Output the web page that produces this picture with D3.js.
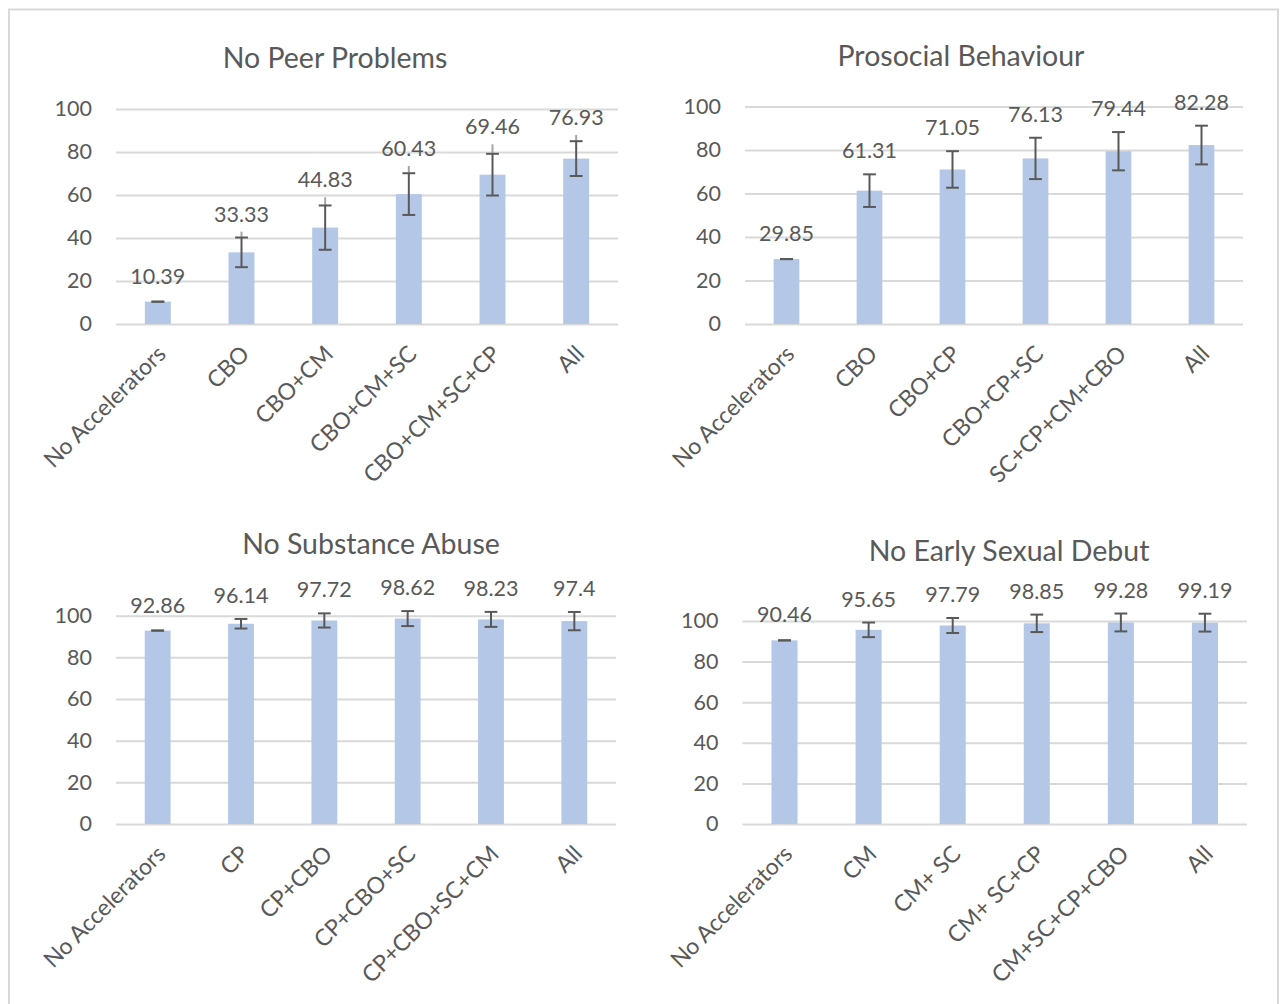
<!DOCTYPE html>
<html>
<head>
<meta charset="utf-8">
<script src="https://cdn.jsdelivr.net/npm/d3@7"></script>
<style>
  html, body { margin: 0; padding: 0; background: #fff; }
  svg { display: block; }
</style>
</head>
<body>
<svg id="chart" width="1281" height="1004"></svg>
<script>
// ---- Data ----------------------------------------------------------------
const yTicks = [0, 20, 40, 60, 80, 100];

const peerCategories = ["No Accelerators", "CBO", "CBO+CM", "CBO+CM+SC", "CBO+CM+SC+CP", "All"];
const peerValues = [10.39, 33.33, 44.83, 60.43, 69.46, 76.93];
const peerErrors = [0, 6.9, 10.3, 9.7, 9.7, 8.1];
const peerUpperSpread = [0, 9.6, 14.1, 13.1, 14.1, 11.0];

const prosocialCategories = ["No Accelerators", "CBO", "CBO+CP", "CBO+CP+SC", "SC+CP+CM+CBO", "All"];
const prosocialValues = [29.85, 61.31, 71.05, 76.13, 79.44, 82.28];
const prosocialErrors = [0, 7.5, 8.4, 9.5, 8.8, 8.9];

const substanceCategories = ["No Accelerators", "CP", "CP+CBO", "CP+CBO+SC", "CP+CBO+SC+CM", "All"];
const substanceValues = [92.86, 96.14, 97.72, 98.62, 98.23, 97.4];
const substanceErrors = [0, 2.3, 3.4, 3.6, 3.6, 4.4];

const sexualCategories = ["No Accelerators", "CM", "CM+ SC", "CM+ SC+CP", "CM+SC+CP+CBO", "All"];
const sexualValues = [90.46, 95.65, 97.79, 98.85, 99.28, 99.19];
const sexualErrors = [0, 3.6, 3.7, 4.3, 4.4, 4.4];

// ---- Panels ----------------------------------------------------------------
const panels = [
  { title: "No Peer Problems", cats: peerCategories, vals: peerValues, errs: peerErrors, spread: peerUpperSpread,
    x0: 116, x1: 618, yTop: 109, yBase: 324, tx: 335, ty: 57 },
  { title: "Prosocial Behaviour", cats: prosocialCategories, vals: prosocialValues, errs: prosocialErrors, spread: null,
    x0: 745, x1: 1243, yTop: 106.5, yBase: 324, tx: 961, ty: 55 },
  { title: "No Substance Abuse", cats: substanceCategories, vals: substanceValues, errs: substanceErrors, spread: null,
    x0: 116, x1: 616, yTop: 615.7, yBase: 824, tx: 371, ty: 543 },
  { title: "No Early Sexual Debut", cats: sexualCategories, vals: sexualValues, errs: sexualErrors, spread: null,
    x0: 742.5, x1: 1247, yTop: 621, yBase: 824, tx: 1009, ty: 550 }
];

const FONT = "Lato, 'Open Sans', sans-serif";
const TEXT = "#595959";
const GRID = "#d9d9d9";
const BAR = "#b4c7e7";
const ERR = "#595959";
const ERR_LIGHT = "#a6a6a6";

const svg = d3.select("#chart");

// frame around the figure
svg.append("rect")
  .attr("x", 9).attr("y", 9.5)
  .attr("width", 1269).attr("height", 1010)
  .attr("fill", "none").attr("stroke", "#d9d9d9").attr("stroke-width", 2);

panels.forEach(p => {
  const g = svg.append("g");

  const rows = p.cats.map((c, i) => ({
    cat: c,
    v: p.vals[i],
    e: p.errs[i],
    s: p.spread ? p.spread[i] : 0
  }));

  const x = d3.scaleBand()
    .domain(p.cats)
    .range([p.x0, p.x1])
    .paddingInner(0.69)
    .paddingOuter(0.345);

  const y = d3.scaleLinear().domain([0, 100]).range([p.yBase, p.yTop]);
  const cx = d => x(d.cat) + x.bandwidth() / 2;
  const cap = 6.4;

  // title
  g.append("text")
    .attr("x", p.tx).attr("y", p.ty)
    .attr("text-anchor", "middle").attr("dominant-baseline", "central")
    .attr("font-family", FONT).attr("font-size", 28.5)
    .attr("fill", TEXT)
    .text(p.title);

  // value axis with gridlines
  const yAxis = g.append("g")
    .attr("transform", `translate(${p.x0},0)`)
    .call(d3.axisLeft(y).tickValues(yTicks).tickSize(-(p.x1 - p.x0)).tickPadding(24));
  yAxis.select(".domain").remove();
  yAxis.selectAll(".tick line").attr("stroke", GRID).attr("stroke-width", 2);
  yAxis.selectAll(".tick text")
    .attr("font-family", FONT).attr("font-size", 21.5).attr("fill", TEXT);

  // category axis
  const xAxis = g.append("g")
    .attr("transform", `translate(0,${p.yBase})`)
    .call(d3.axisBottom(x).tickSize(0));
  xAxis.select(".domain").remove();
  xAxis.selectAll(".tick text")
    .attr("font-family", FONT).attr("font-size", 23).attr("fill", TEXT)
    .attr("text-anchor", "end")
    .attr("dominant-baseline", "central")
    .attr("y", 0).attr("dy", null)
    .attr("transform", "translate(3,25) rotate(-45)");

  // bars
  g.selectAll("rect.bar")
    .data(rows)
    .join("rect")
    .attr("class", "bar")
    .attr("x", d => x(d.cat))
    .attr("width", x.bandwidth())
    .attr("y", d => y(d.v))
    .attr("height", d => y(0) - y(d.v))
    .attr("fill", BAR);

  // wider upper spread: light stem above the capped error bar
  g.selectAll("line.spread")
    .data(rows.filter(d => d.s > d.e))
    .join("line")
    .attr("class", "spread")
    .attr("x1", cx).attr("x2", cx)
    .attr("y1", d => y(d.v + d.e))
    .attr("y2", d => y(d.v + d.s))
    .attr("stroke", ERR_LIGHT).attr("stroke-width", 2);

  // error bars
  const eb = g.selectAll("g.err")
    .data(rows)
    .join("g")
    .attr("class", "err");
  eb.append("line")
    .attr("x1", cx).attr("x2", cx)
    .attr("y1", d => y(d.v - d.e))
    .attr("y2", d => y(d.v + d.e))
    .attr("stroke", ERR).attr("stroke-width", 2);
  eb.append("line")
    .attr("x1", d => cx(d) - cap).attr("x2", d => cx(d) + cap)
    .attr("y1", d => y(d.v + d.e)).attr("y2", d => y(d.v + d.e))
    .attr("stroke", ERR).attr("stroke-width", 2);
  eb.append("line")
    .attr("x1", d => cx(d) - cap).attr("x2", d => cx(d) + cap)
    .attr("y1", d => y(d.v - d.e)).attr("y2", d => y(d.v - d.e))
    .attr("stroke", ERR).attr("stroke-width", 2);

  // value labels, lifted clear of the error bars
  g.selectAll("text.val")
    .data(rows)
    .join("text")
    .attr("class", "val")
    .attr("x", cx)
    .attr("y", d => Math.min(y(d.v + d.e) - 24, y(d.v + d.s) - 18, y(d.v) - 26))
    .attr("text-anchor", "middle").attr("dominant-baseline", "central")
    .attr("font-family", FONT).attr("font-size", 21.5).attr("fill", TEXT)
    .text(d => d.v);
});
</script>
</body>
</html>
